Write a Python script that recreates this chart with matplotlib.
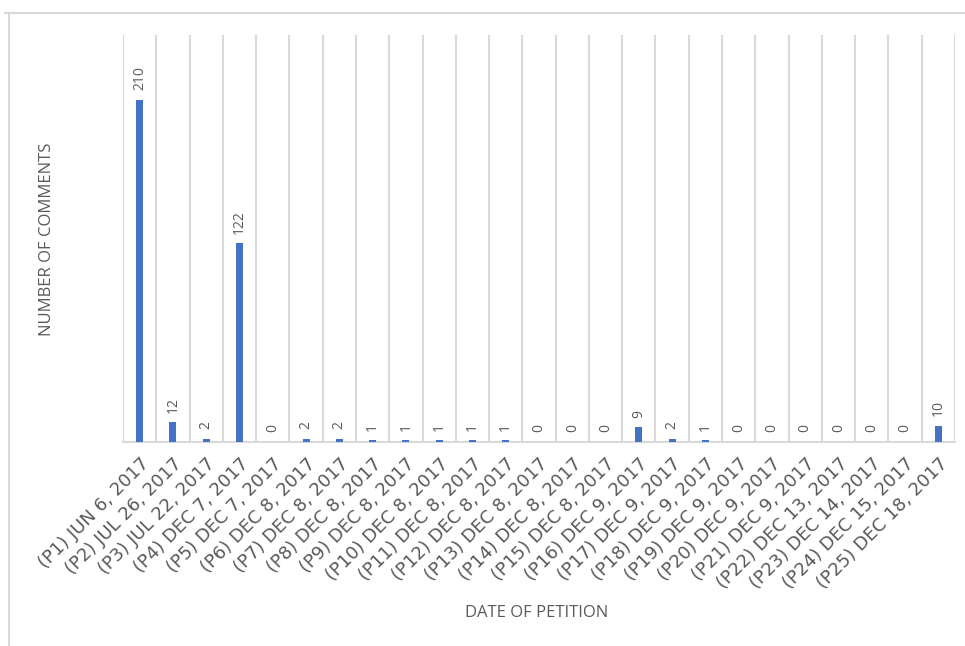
import matplotlib.pyplot as plt
from matplotlib.lines import Line2D

petitions = ["(P1) JUN 6, 2017", "(P2) JUL 26, 2017", "(P3) JUL 22, 2017",
             "(P4) DEC 7, 2017", "(P5) DEC 7, 2017", "(P6) DEC 8, 2017",
             "(P7) DEC 8, 2017", "(P8) DEC 8, 2017", "(P9) DEC 8, 2017",
             "(P10) DEC 8, 2017", "(P11) DEC 8, 2017", "(P12) DEC 8, 2017",
             "(P13) DEC 8, 2017", "(P14) DEC 8, 2017", "(P15) DEC 8, 2017",
             "(P16) DEC 9, 2017", "(P17) DEC 9, 2017", "(P18) DEC 9, 2017",
             "(P19) DEC 9, 2017", "(P20) DEC 9, 2017", "(P21) DEC 9, 2017",
             "(P22) DEC 13, 2017", "(P23) DEC 14, 2017", "(P24) DEC 15, 2017",
             "(P25) DEC 18, 2017"]
comments = [210, 12, 2, 122, 0, 2, 2, 1, 1, 1, 1, 1, 0, 0, 0, 9, 2, 1,
            0, 0, 0, 0, 0, 0, 10]

plt.rcParams['font.family'] = ['Open Sans', 'DejaVu Sans']
grey = '#595959'

fig = plt.figure(figsize=(9.65, 6.46), dpi=100)
ax = fig.add_axes([0.1275, 0.3158, 0.8621, 0.63])

x = range(len(comments))
ax.bar(x, comments, width=0.21, color='#4472C4', zorder=3)
for i, v in zip(x, comments):
    ax.annotate(str(v), (i, v), xytext=(0, 7), textcoords='offset points',
                rotation=90, ha='center', va='bottom', fontsize=10, color=grey)

ax.set_xlim(-0.5, len(comments) - 0.5)
ax.set_ylim(0, 250)
ax.set_yticks([])
ax.set_xticks(list(x))
ax.set_xticklabels(petitions, rotation=45, ha='right', rotation_mode='anchor',
                   fontsize=13, color=grey, family='DejaVu Sans')
ax.tick_params(axis='x', length=0, pad=9)
ax.set_xticks([i - 0.5 for i in range(len(comments) + 1)], minor=True)
ax.tick_params(axis='x', which='minor', length=0)
ax.grid(True, which='minor', axis='x', color='#d9d9d9', linewidth=1.5, zorder=0)

for s in ['top', 'left', 'right']:
    ax.spines[s].set_visible(False)
ax.spines['bottom'].set_color('#d9d9d9')
ax.spines['bottom'].set_linewidth(1.5)

fig.text(0.049, 0.63, 'NUMBER OF COMMENTS', rotation=90, ha='center',
         va='center', fontsize=12, color=grey)
fig.text(0.556, 0.051, 'DATE OF PETITION', ha='center', va='center',
         fontsize=12, color=grey)

# outer chart frame
fig.add_artist(Line2D([0.005, 1.0], [0.98, 0.98], color='#d9d9d9', linewidth=1.5))
fig.add_artist(Line2D([0.0093, 0.0093], [0.0, 0.98], color='#d9d9d9', linewidth=1.5))

plt.savefig('out.png', dpi=100)
